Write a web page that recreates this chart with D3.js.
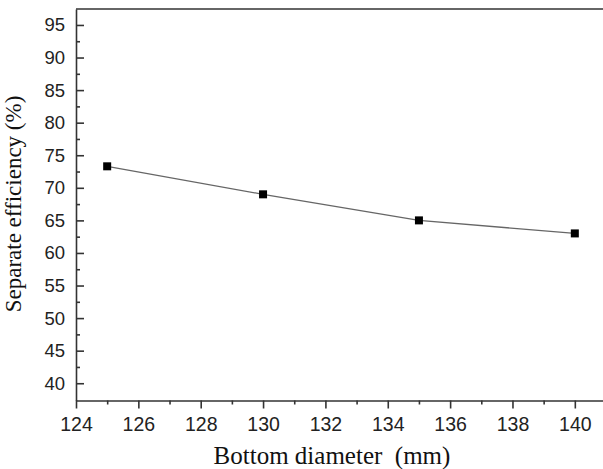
<!DOCTYPE html>
<html><head><meta charset="utf-8">
<script src="https://cdn.jsdelivr.net/npm/d3@7"></script>
<style>body{margin:0;background:#fff}svg{display:block}</style>
</head><body>
<script>
const diameters = [125, 130, 135, 140];
const efficiency = [73.3, 69.0, 65.0, 63.0];
const xTicks = [124, 126, 128, 130, 132, 134, 136, 138, 140];
const yTicks = [40, 45, 50, 55, 60, 65, 70, 75, 80, 85, 90, 95];

const W = 603, H = 469;
const svg = d3.select("body").append("svg").attr("width", W).attr("height", H);
const x = d3.scaleLinear().domain([124, 141]).range([76, 606]);
const y = d3.scaleLinear().domain([37.35, 97.45]).range([400.5, 9]);
const axisColor = "#333";

// frame top line
svg.append("line").attr("x1", 76).attr("x2", 606).attr("y1", 9).attr("y2", 9)
  .attr("stroke", axisColor).attr("stroke-width", 1.6);

// X axis
const xAxis = svg.append("g").attr("transform", "translate(0,400.5)")
  .call(d3.axisBottom(x).tickValues(xTicks).tickSize(8).tickSizeOuter(0).tickPadding(8.5));
xAxis.selectAll(".tick text").attr("font-size", 19.5);
svg.append("g").attr("transform", "translate(0,400.5)")
  .call(d3.axisBottom(x).tickValues(d3.range(125, 141, 2)).tickSize(4).tickFormat("").tickSizeOuter(0))
  .select(".domain").remove();

// Y axis (ticks inward)
const yAxis = svg.append("g").attr("transform", "translate(76,0)")
  .call(d3.axisLeft(y).tickValues(yTicks).tickSize(0).tickSizeOuter(0).tickPadding(11));
yAxis.selectAll(".tick line").attr("x2", 8);
yAxis.selectAll(".tick text").attr("font-size", 18.5);
const yMinor = svg.append("g").attr("transform", "translate(76,0)")
  .call(d3.axisLeft(y).tickValues(d3.range(42.5, 97.5, 5)).tickSize(0).tickFormat(""));
yMinor.select(".domain").remove();
yMinor.selectAll(".tick line").attr("x2", 4);

svg.selectAll(".domain, .tick line").attr("stroke", axisColor).attr("stroke-width", 1.6);
svg.selectAll(".tick text").attr("font-family", "Liberation Sans, Arial, sans-serif").attr("fill", "#222");

// line
const pts = diameters.map((d, i) => [d, efficiency[i]]);
svg.append("path").datum(pts)
  .attr("d", d3.line().x(d => x(d[0])).y(d => y(d[1])))
  .attr("fill", "none").attr("stroke", "#666").attr("stroke-width", 1.3);
svg.selectAll("rect.pt").data(pts).enter().append("rect")
  .attr("x", d => x(d[0]) - 4).attr("y", d => y(d[1]) - 4)
  .attr("width", 8).attr("height", 8).attr("fill", "#000");

// labels
svg.append("text").attr("x", 332).attr("y", 464).attr("text-anchor", "middle")
  .attr("font-family", "Liberation Serif, Times New Roman, serif").attr("font-size", 25)
  .style("white-space", "pre").attr("fill", "#111").text("Bottom diameter  (mm)");
svg.append("text").attr("transform", "translate(21,204) rotate(-90)").attr("text-anchor", "middle")
  .attr("font-family", "Liberation Serif, Times New Roman, serif").attr("font-size", 23)
  .attr("fill", "#111").text("Separate efficiency (%)");
</script>
</body></html>
